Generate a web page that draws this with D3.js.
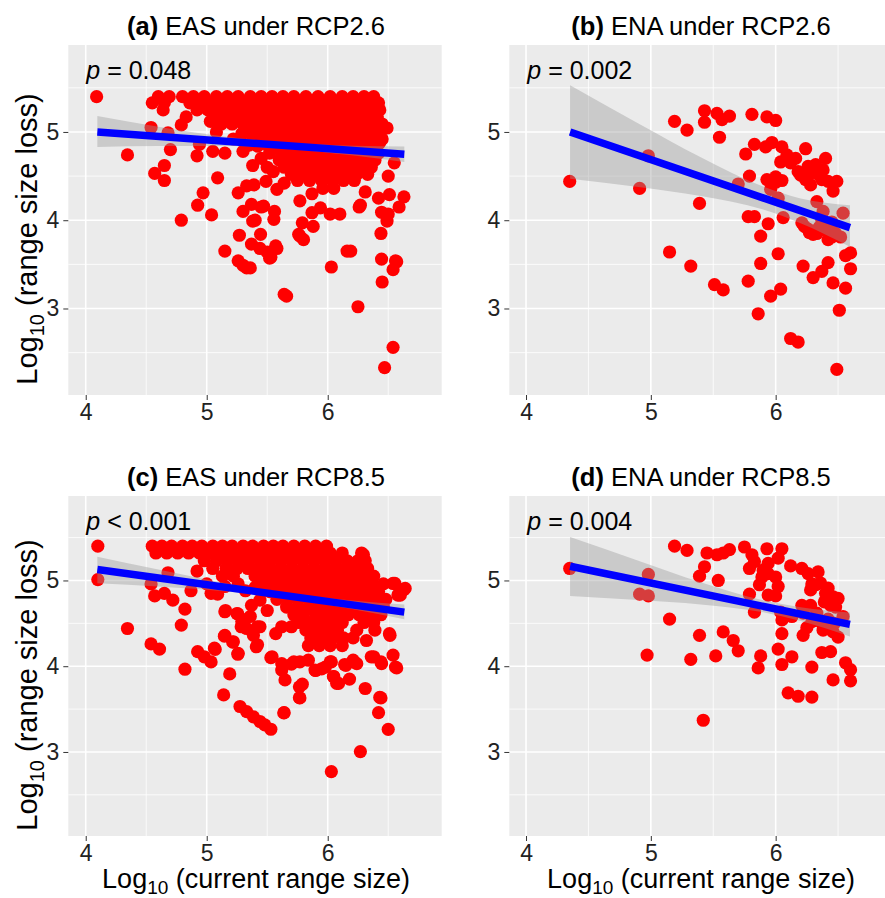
<!DOCTYPE html>
<meta charset="utf-8">
<html>
<head>
<style>
body {
  margin: 0;
  background: #fff;
}
text {
  font-family: "Liberation Sans", Arial, Helvetica, sans-serif;
}
.tick line {
  stroke: #333;
}
.tick text {
  fill: #222;
  font-size: 23px;
}
</style>
</head>
<body>
<div id="my_dataviz"></div>
<script src="https://d3js.org/d3.v7.min.js"></script>
<script>

// tick values
var xMajor = [4, 5, 6], xMinor = [4.5, 5.5, 6.5];
var yMajor = [3, 4, 5], yMinor = [2.5, 3.5, 4.5, 5.5];

var panelTags = ["(a)", "(b)", "(c)", "(d)"];
var panelNames = ["EAS under RCP2.6", "ENA under RCP2.6", "EAS under RCP8.5", "ENA under RCP8.5"];
var pLabels = ["= 0.048", "= 0.002", "< 0.001", "= 0.004"];

// ---- (a) EAS RCP2.6 : scattered points + dense rows [y, [x...]]
var easRcp26Loose = [
  [4.09,5.40],[4.345,4.74],[4.54,5.05],[4.68,4.99],[4.70,4.80],[4.79,5.08],[4.57,4.53],[4.65,4.45],
  [4.65,4.62],[4.79,4.00],[4.92,4.73],[4.94,4.86],[4.97,4.31],[4.925,4.17],[5.04,4.06],[5.09,4.48],
  [5.05,4.78],[5.15,4.76],[5.30,4.78],[5.15,3.65],[5.27,3.83],[5.26,3.54],[5.33,3.46],[5.26,4.31],
  [5.33,4.39],[5.37,4.18],[5.30,4.10],[5.38,3.99],[5.37,3.73],[6.49,5.045],[6.43,4.88],[6.55,4.65],
  [6.50,4.50],[6.51,4.29],[6.63,4.265],[6.59,4.15],[6.42,4.25],[6.445,4.09],[6.50,4.07],[6.49,3.99],
  [6.44,3.85],[6.445,3.56],[6.56,3.54],[6.54,3.44],[6.45,3.30],[6.25,3.02],[6.54,2.56],[6.47,2.33],
  [6.16,3.65],[6.19,3.65],[6.03,3.47],[5.64,3.16],[5.66,3.14],[6.26,4.15],[6.31,4.32],[6.02,4.07],
  [6.10,4.07],[5.94,4.14],[5.87,4.085],[5.88,3.93],[5.79,3.97],[5.77,4.22],[5.77,3.82],[5.80,3.78],
  [5.87,4.30],[5.96,4.36],[6.05,4.36],[5.57,3.71],[5.53,3.58],[5.445,3.84],[5.555,4.01],[5.47,4.16],
  [5.36,3.46],[5.58,4.35],[5.64,4.42],[5.49,4.44],[5.39,4.40],[5.40,4.00],[5.50,3.64],[5.44,3.68],
  [5.58,3.68],[5.30,3.49],[5.52,3.57],[6.57,3.53],[5.76,3.84],[5.45,4.15],[5.56,4.10],[6.27,4.17],
  [5.35,4.85],[5.45,4.70],[5.50,4.60],[5.38,4.62],[5.55,4.55],[5.03,5.12],[5.29,4.98]
];
var easRcp26Rows = [
  [5.40, [4.60,4.69,4.80,4.89,4.98,5.08,5.17,5.26,5.36,5.45,5.54,5.63,5.72,5.82,5.92,6.02,6.12,6.21,6.30,6.38]],
  [5.33, [4.55,4.65,4.86,4.95,5.04,5.13,5.22,5.31,5.40,5.49,5.58,5.67,5.76,5.86,5.96,6.05,6.14,6.23,6.32,6.42]],
  [5.25, [4.64,4.92,5.01,5.10,5.19,5.28,5.37,5.46,5.55,5.64,5.73,5.82,5.91,6.00,6.09,6.18,6.27,6.36,6.43]],
  [5.17, [4.83,5.06,5.15,5.24,5.33,5.42,5.51,5.60,5.69,5.78,5.87,5.96,6.05,6.14,6.23,6.32,6.41]],
  [5.09, [5.12,5.21,5.30,5.39,5.48,5.57,5.66,5.75,5.84,5.93,6.02,6.11,6.20,6.29,6.38,6.45]],
  [5.00, [5.08,5.33,5.42,5.51,5.60,5.69,5.78,5.87,5.96,6.05,6.14,6.23,6.32,6.41]],
  [4.92, [5.22,5.38,5.47,5.56,5.65,5.74,5.83,5.92,6.01,6.10,6.19,6.28,6.37,6.45]],
  [4.84, [5.42,5.51,5.60,5.69,5.78,5.87,5.96,6.05,6.14,6.23,6.32,6.40]],
  [4.76, [5.52,5.62,5.71,5.80,5.89,5.98,6.07,6.16,6.25,6.34,6.42]],
  [4.68, [5.60,5.68,5.77,5.86,5.95,6.04,6.13,6.22,6.31,6.39]],
  [4.60, [5.64,5.73,5.82,5.91,6.00,6.09,6.18,6.27,6.36]],
  [4.52, [5.70,5.79,5.88,5.97,6.06,6.15,6.24,6.33]],
  [4.45, [5.75,5.85,5.95,6.04,6.13,6.22]]
];

// ---- (b) ENA RCP2.6
var enaRcp26 = [
  [4.35,4.44],[4.98,4.73],[4.91,4.36],[5.39,4.19],[5.19,5.12],[5.29,5.02],[5.43,5.24],[5.53,5.21],
  [5.43,5.11],[5.57,5.14],[5.63,5.18],[5.55,4.94],[5.81,5.20],[5.93,5.17],[6.00,5.13],[5.83,4.86],
  [5.76,4.75],[5.92,4.83],[5.97,4.88],[6.05,4.83],[6.09,4.74],[6.04,4.66],[6.12,4.65],[6.16,4.70],
  [6.24,4.81],[6.40,4.70],[6.26,4.61],[6.32,4.63],[6.38,4.57],[6.20,4.51],[6.24,4.46],[6.28,4.40],
  [6.37,4.46],[6.42,4.44],[6.49,4.44],[6.46,4.33],[5.79,4.50],[5.93,4.46],[6.00,4.49],[6.05,4.45],
  [5.96,4.35],[5.70,4.41],[6.02,4.25],[6.33,4.21],[6.54,4.08],[6.38,4.10],[5.78,4.04],[5.83,4.04],
  [6.06,4.03],[5.94,3.96],[6.21,3.97],[6.26,3.90],[6.33,3.85],[6.40,3.89],[6.45,3.81],[6.52,3.81],
  [6.37,4.00],[5.88,3.82],[5.15,3.64],[5.32,3.48],[6.02,3.62],[5.88,3.51],[6.22,3.48],[6.30,3.35],
  [6.37,3.42],[6.42,3.52],[6.56,3.60],[6.60,3.63],[6.60,3.45],[6.46,3.29],[6.56,3.23],[5.51,3.27],
  [5.58,3.21],[5.78,3.31],[6.04,3.22],[5.96,3.14],[5.86,2.94],[6.51,2.98],[6.12,2.66],[6.18,2.62],
  [6.49,2.31],[6.18,4.55],[6.29,4.54],[6.34,4.52],[6.27,3.86],[6.30,3.84],[6.35,3.92],[6.42,3.78],
  [6.48,3.85],[6.23,3.93],[6.45,3.98],[6.00,4.43]
];

// ---- (c) EAS RCP8.5
var easRcp85Loose = [
  [4.10,5.40],[4.10,5.01],[4.345,4.44],[4.54,4.26],[4.61,4.20],[4.82,3.965],[4.79,4.48],[4.82,4.665],
  [4.57,4.82],[4.65,4.85],[4.72,4.77],[4.54,4.96],[4.68,5.09],[4.87,4.88],[4.92,5.11],[5.036,4.85],
  [5.09,4.84],[5.155,4.65],[5.257,4.61],[5.31,4.54],[5.285,4.46],[5.146,4.35],[5.215,4.28],[5.257,4.14],
  [4.925,4.17],[4.98,4.11],[5.036,4.05],[5.064,4.21],[5.19,3.91],[5.14,3.665],[5.275,3.53],[5.33,3.47],
  [5.386,3.41],[5.44,3.355],[5.48,3.315],[5.53,3.265],[5.64,3.458],[5.766,3.633],[5.766,3.76],[5.79,3.79],
  [5.53,4.10],[5.62,3.955],[5.647,3.84],[5.70,4.025],[5.77,4.05],[5.84,4.07],[5.895,3.955],[5.98,3.99],
  [6.03,4.05],[6.047,3.88],[6.074,3.80],[6.18,3.85],[6.15,4.01],[6.21,4.07],[6.31,3.74],[6.43,3.636],
  [6.42,3.458],[6.50,3.264],[6.27,3.004],[6.03,2.77],[6.36,4.11],[6.44,4.05],[6.54,4.13],[6.57,3.98],
  [6.515,4.36],[6.54,4.965],[6.64,4.907],[6.60,4.83],[5.41,4.227],[5.386,4.36],[5.44,4.46],[5.37,4.71],
  [5.44,4.77],[5.50,4.65],[5.15,4.635],[5.25,4.615],[5.29,4.52],[5.33,4.44],[5.26,4.15],[5.22,4.285],
  [5.15,4.36],[5.07,4.196],[6.295,5.30],[6.226,5.20],[6.555,4.965],[6.63,4.895],[6.58,4.83],[6.51,4.38],
  [6.38,4.11],[6.445,4.03],[6.56,3.99],[6.44,3.63],[5.637,3.455],[5.77,3.63],[5.62,4.03],[5.54,4.11],
  [5.72,4.05],[5.90,3.95],[5.95,3.97],[6.02,4.05],[6.05,3.88],[6.09,3.80],[6.14,4.02],[6.24,4.03],
  [5.36,4.58],[5.42,4.46],[5.42,4.25],[5.57,4.38],[5.62,4.46],[5.70,4.46],[5.80,4.61],[6.39,4.42],
  [6.32,4.30],[5.00,4.96],[5.15,4.93],[5.32,4.88],[5.40,4.92]
];
var easRcp85Rows = [
  [5.40, [4.55,4.63,4.71,4.80,4.88,4.96,5.05,5.13,5.21,5.30,5.38,5.47,5.55,5.63,5.72,5.81,5.90,5.99]],
  [5.32, [4.58,4.67,4.76,4.85,4.94,5.03,5.12,5.21,5.30,5.39,5.48,5.57,5.66,5.75,5.84,5.93,6.02,6.12,6.28]],
  [5.23, [4.98,5.08,5.17,5.26,5.35,5.44,5.53,5.62,5.71,5.80,5.89,5.98,6.07,6.16,6.25,6.31]],
  [5.14, [5.05,5.16,5.25,5.34,5.43,5.52,5.61,5.70,5.79,5.88,5.97,6.06,6.15,6.24,6.33]],
  [5.05, [5.13,5.22,5.40,5.49,5.58,5.67,5.76,5.85,5.94,6.03,6.12,6.21,6.30,6.38]],
  [4.96, [5.26,5.47,5.56,5.65,5.74,5.83,5.92,6.01,6.10,6.19,6.28,6.37,6.46]],
  [4.87, [5.52,5.61,5.70,5.79,5.88,5.97,6.06,6.15,6.24,6.33,6.42]],
  [4.78, [5.58,5.67,5.76,5.85,5.94,6.03,6.12,6.21,6.30,6.39,6.48]],
  [4.69, [5.66,5.75,5.84,5.93,6.02,6.11,6.20,6.29,6.38,6.46]],
  [4.60, [5.72,5.90,5.99,6.08,6.17,6.26,6.35,6.44]],
  [4.51, [5.76,5.85,5.94,6.03,6.12,6.30,6.38]],
  [4.42, [5.82,5.91,6.00,6.08,6.24]],
  [4.33, [5.86,5.95,6.04,6.13,6.21]],
  [4.24, [5.84,5.93,6.02,6.12]]
];

// ---- (d) ENA RCP8.5
var enaRcp85 = [
  [4.35,5.14],[4.98,5.07],[4.91,4.84],[4.98,4.82],[4.97,4.13],[5.15,4.55],[5.19,5.40],[5.29,5.35],
  [5.45,5.32],[5.53,5.30],[5.58,5.32],[5.63,5.36],[5.43,5.16],[5.39,5.05],[5.54,5.00],[5.39,4.36],
  [5.32,4.08],[5.52,4.12],[5.58,4.40],[5.66,4.30],[5.70,4.18],[5.42,3.37],[5.75,5.39],[5.81,5.30],
  [5.79,5.14],[5.83,5.22],[5.93,5.37],[6.05,5.37],[6.02,5.26],[5.94,5.20],[5.94,5.08],[6.00,5.04],
  [5.89,5.04],[6.02,4.93],[6.00,4.82],[5.94,4.83],[5.79,4.84],[5.83,4.63],[6.12,5.17],[6.21,5.14],
  [6.26,5.08],[6.34,5.10],[6.29,4.96],[6.28,4.89],[6.36,4.97],[6.42,4.91],[6.46,4.81],[6.50,4.79],
  [6.39,4.75],[6.44,4.71],[6.48,4.69],[6.54,4.58],[6.21,4.71],[6.28,4.71],[6.22,4.62],[6.29,4.52],
  [6.36,4.52],[6.38,4.42],[6.46,4.40],[6.50,4.34],[6.38,4.48],[6.04,4.63],[6.05,4.54],[6.13,4.58],
  [6.05,4.38],[6.22,4.36],[6.02,4.20],[6.13,4.11],[6.05,4.02],[5.88,4.12],[5.86,3.98],[6.29,3.99],
  [6.37,4.16],[6.44,4.17],[6.46,3.84],[6.56,4.04],[6.60,3.96],[6.60,3.83],[6.10,3.69],[6.18,3.65],
  [6.29,3.64],[6.33,4.62],[6.42,4.55],[6.47,4.50],[6.25,4.45],[6.32,4.95],[6.40,4.85],[5.87,4.95],
  [5.90,5.12]
];

// fitted lines (x0, y0, x1, y1) and confidence band read at a few x
var fitLines = [
  [4.096, 5.000, 6.633, 4.747],
  [4.353, 5.000, 6.595, 3.916],
  [4.096, 5.128, 6.633, 4.631],
  [4.353, 5.166, 6.595, 4.488]
];
var ciX  = [
  [4.096, 4.6, 5.2, 5.7, 6.2, 6.633],
  [4.353, 4.9, 5.4, 5.9, 6.2, 6.595],
  [4.096, 4.6, 5.2, 5.7, 6.2, 6.633],
  [4.353, 4.9, 5.4, 5.9, 6.2, 6.595]
];
var ciLo = [
  [4.83, 4.84, 4.84, 4.805, 4.735, 4.66],
  [4.47, 4.376, 4.274, 4.122, 3.967, 3.70],
  [4.968, 4.929, 4.867, 4.784, 4.666, 4.547],
  [4.82, 4.771, 4.719, 4.628, 4.527, 4.347]
];
var ciHi = [
  [5.18, 5.06, 4.94, 4.875, 4.845, 4.834],
  [5.53, 5.096, 4.714, 4.382, 4.247, 4.17],
  [5.278, 5.129, 4.957, 4.844, 4.766, 4.72],
  [5.507, 5.231, 4.979, 4.768, 4.687, 4.626]
];

function rowsToPoints(loose, rows) {
  var out = loose.slice();
  rows.forEach(function(r) {
    r[1].forEach(function(x) { out.push([x, r[0]]); });
  });
  return out;
}

var allPoints = [
  rowsToPoints(easRcp26Loose, easRcp26Rows),
  enaRcp26,
  rowsToPoints(easRcp85Loose, easRcp85Rows),
  enaRcp85
];

// panel layout in pixels
var panels = [
  {left: 68.3, right: 441.7, top: 45, bottom: 395, xDomain: [3.856, 6.942], titleX: 256, row: 0},
  {left: 509.3, right: 885, top: 45, bottom: 395, xDomain: [3.866, 6.876], titleX: 701, row: 0},
  {left: 68.3, right: 441.7, top: 496, bottom: 836, xDomain: [3.856, 6.942], titleX: 256, row: 1},
  {left: 509.3, right: 885, top: 496, bottom: 836, xDomain: [3.866, 6.876], titleX: 701, row: 1}
];
var yDomain = [2.02, 5.985];

var svg = d3.select("#my_dataviz")
  .append("svg")
    .attr("width", 885)
    .attr("height", 898)
    .style("background", "#fff");

panels.forEach(function(p, i) {
  var x = d3.scaleLinear().domain(p.xDomain).range([p.left, p.right]);
  var y = d3.scaleLinear().domain(yDomain).range([p.bottom, p.top]);
  var g = svg.append("g");

  g.append("rect")
    .attr("x", p.left).attr("y", p.top)
    .attr("width", p.right - p.left).attr("height", p.bottom - p.top)
    .attr("fill", "#EBEBEB");

  // gridlines
  g.selectAll(".gxm").data(xMinor).enter().append("line")
    .attr("x1", function(d) { return x(d); }).attr("x2", function(d) { return x(d); })
    .attr("y1", p.top).attr("y2", p.bottom)
    .attr("stroke", "#fff").attr("stroke-width", 0.8);
  g.selectAll(".gym").data(yMinor).enter().append("line")
    .attr("y1", function(d) { return y(d); }).attr("y2", function(d) { return y(d); })
    .attr("x1", p.left).attr("x2", p.right)
    .attr("stroke", "#fff").attr("stroke-width", 0.8);
  g.selectAll(".gx").data(xMajor).enter().append("line")
    .attr("x1", function(d) { return x(d); }).attr("x2", function(d) { return x(d); })
    .attr("y1", p.top).attr("y2", p.bottom)
    .attr("stroke", "#fff").attr("stroke-width", 1.6);
  g.selectAll(".gy").data(yMajor).enter().append("line")
    .attr("y1", function(d) { return y(d); }).attr("y2", function(d) { return y(d); })
    .attr("x1", p.left).attr("x2", p.right)
    .attr("stroke", "#fff").attr("stroke-width", 1.6);

  // points
  g.selectAll("circle").data(allPoints[i]).enter().append("circle")
    .attr("cx", function(d) { return x(d[0]); })
    .attr("cy", function(d) { return y(d[1]); })
    .attr("r", 6.6)
    .attr("fill", "#FF0000");

  // confidence band
  var band = ciX[i].map(function(v, k) { return [v, ciLo[i][k], ciHi[i][k]]; });
  g.append("path")
    .datum(band)
    .attr("d", d3.area()
      .x(function(d) { return x(d[0]); })
      .y0(function(d) { return y(d[1]); })
      .y1(function(d) { return y(d[2]); })
      .curve(d3.curveMonotoneX))
    .attr("fill", "#999999")
    .attr("fill-opacity", 0.4);

  // fitted line
  var f = fitLines[i];
  g.append("line")
    .attr("x1", x(f[0])).attr("y1", y(f[1]))
    .attr("x2", x(f[2])).attr("y2", y(f[3]))
    .attr("stroke", "#0000FF")
    .attr("stroke-width", 7.5);

  // axes
  var ax = g.append("g")
    .attr("transform", "translate(0," + p.bottom + ")")
    .call(d3.axisBottom(x).tickValues(xMajor).tickSize(5).tickPadding(4).tickFormat(d3.format("d")));
  ax.select(".domain").remove();
  var ay = g.append("g")
    .attr("transform", "translate(" + p.left + ",0)")
    .call(d3.axisLeft(y).tickValues(yMajor).tickSize(5).tickPadding(4).tickFormat(d3.format("d")));
  ay.select(".domain").remove();

  // panel title
  var t = svg.append("text")
    .attr("x", p.titleX)
    .attr("y", p.top - 10)
    .attr("text-anchor", "middle")
    .style("font-size", "25.5px")
    .attr("fill", "#000");
  t.append("tspan").style("font-weight", "bold").text(panelTags[i]);
  t.append("tspan").text(" " + panelNames[i]);

  // p value
  var pt = svg.append("text")
    .attr("x", p.left + 18)
    .attr("y", p.top + 34)
    .style("font-size", "25px")
    .attr("fill", "#000");
  pt.append("tspan").style("font-style", "italic").text("p");
  pt.append("tspan").text(" " + pLabels[i]);

  // y-axis title (left column)
  if (p.left < 100) {
    var yt = svg.append("text")
      .attr("transform", "translate(37," + ((p.top + p.bottom) / 2 + 19) + ") rotate(-90)")
      .attr("text-anchor", "middle")
      .style("font-size", "29px")
      .attr("fill", "#000");
    yt.append("tspan").text("Log");
    yt.append("tspan").attr("dy", 7).style("font-size", "20px").text("10");
    yt.append("tspan").attr("dy", -7).text(" (range size loss)");
  }

  // x-axis title (bottom row)
  if (p.row === 1) {
    var xt = svg.append("text")
      .attr("x", p.titleX)
      .attr("y", 888)
      .attr("text-anchor", "middle")
      .style("font-size", "27px")
      .attr("fill", "#000");
    xt.append("tspan").text("Log");
    xt.append("tspan").attr("dy", 6).style("font-size", "19px").text("10");
    xt.append("tspan").attr("dy", -6).text(" (current range size)");
  }
});

</script>
</body>
</html>
